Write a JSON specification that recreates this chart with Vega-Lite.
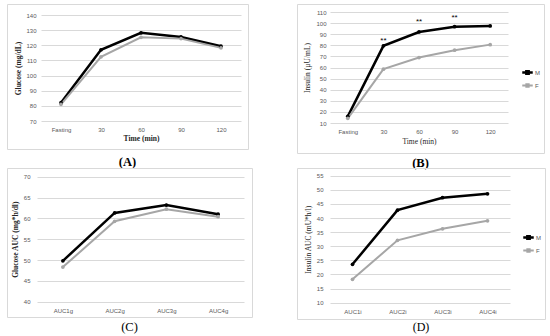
{
  "$schema": "https://vega.github.io/schema/vega-lite/v6.json",
  "padding": {"left": 6, "top": 3, "right": 0, "bottom": 0},
  "background": "white",
  "datasets": {
    "glucose": [
      {"time": "Fasting", "sex": "M", "value": 82.1},
      {"time": "30", "sex": "M", "value": 117},
      {"time": "60", "sex": "M", "value": 128.2},
      {"time": "90", "sex": "M", "value": 125.5},
      {"time": "120", "sex": "M", "value": 119.4},
      {"time": "Fasting", "sex": "F", "value": 81},
      {"time": "30", "sex": "F", "value": 112.4},
      {"time": "60", "sex": "F", "value": 125.3},
      {"time": "90", "sex": "F", "value": 124.4},
      {"time": "120", "sex": "F", "value": 118.3}
    ],
    "insulin": [
      {"time": "Fasting", "sex": "M", "value": 16},
      {"time": "30", "sex": "M", "value": 79.5},
      {"time": "60", "sex": "M", "value": 92},
      {"time": "90", "sex": "M", "value": 96.8},
      {"time": "120", "sex": "M", "value": 97.4},
      {"time": "Fasting", "sex": "F", "value": 14.2},
      {"time": "30", "sex": "F", "value": 58.5},
      {"time": "60", "sex": "F", "value": 69},
      {"time": "90", "sex": "F", "value": 75.6},
      {"time": "120", "sex": "F", "value": 80.6}
    ],
    "stars": [
      {"time": "30", "value": 86, "label": "**"},
      {"time": "60", "value": 102.6, "label": "**"},
      {"time": "90", "value": 106.5, "label": "**"}
    ],
    "gauc": [
      {"auc": "AUC1g", "sex": "M", "value": 49.8},
      {"auc": "AUC2g", "sex": "M", "value": 61.3},
      {"auc": "AUC3g", "sex": "M", "value": 63.2},
      {"auc": "AUC4g", "sex": "M", "value": 61.0},
      {"auc": "AUC1g", "sex": "F", "value": 48.3},
      {"auc": "AUC2g", "sex": "F", "value": 59.3},
      {"auc": "AUC3g", "sex": "F", "value": 62.2},
      {"auc": "AUC4g", "sex": "F", "value": 60.4}
    ],
    "iauc": [
      {"auc": "AUC1i", "sex": "M", "value": 23.6},
      {"auc": "AUC2i", "sex": "M", "value": 42.8},
      {"auc": "AUC3i", "sex": "M", "value": 47.2},
      {"auc": "AUC4i", "sex": "M", "value": 48.6},
      {"auc": "AUC1i", "sex": "F", "value": 18.3},
      {"auc": "AUC2i", "sex": "F", "value": 32.1},
      {"auc": "AUC3i", "sex": "F", "value": 36.2},
      {"auc": "AUC4i", "sex": "F", "value": 39.0}
    ]
  },
  "bounds": "flush",
  "columns": 2,
  "spacing": {"row": 15, "column": 45},
  "resolve": {"scale": {"color": "independent", "strokeWidth": "independent", "x": "independent", "y": "independent"}, "legend": {"color": "independent"}, "axis": {"x": "independent", "y": "independent"}},
  "concat": [
        {
          "width": 241, "height": 145,
          "data": {"name": "glucose"},
          "title": {"text": "(A)", "orient": "bottom", "offset": 7, "font": "Liberation Serif", "fontSize": 12.5, "fontWeight": "bold", "color": "#000000"},
          "encoding": {
            "x": {"field": "time", "type": "ordinal", "sort": ["Fasting", "30", "60", "90", "120"],
                  "scale": {"type": "point", "range": [34, 234], "padding": 0.5},
                  "axis": {"title": "Time (min)", "offset": -28, "labelAngle": 0, "labelPadding": 5, "titlePadding": 2, "titleFontWeight": "bold"}},
            "y": {"field": "value", "type": "quantitative",
                  "scale": {"domain": [70, 140], "range": [117, 11], "nice": false, "zero": false},
                  "axis": {"title": "Glucose (mg/dL)", "values": [70, 80, 90, 100, 110, 120, 130, 140], "offset": -34, "labelPadding": 5, "titlePadding": 3, "titleFontWeight": "bold"}}
          },
          "layer": [
            {"mark": {"type": "line"},
             "encoding": {
               "color": {"field": "sex", "type": "nominal", "scale": {"domain": ["M", "F"], "range": ["#000000", "#a6a6a6"]}, "legend": null},
               "strokeWidth": {"field": "sex", "type": "nominal", "scale": {"domain": ["M", "F"], "range": [2.5, 2]}, "legend": null}}},
            {"mark": {"type": "point", "filled": true, "size": 14, "opacity": 1},
             "encoding": {
               "color": {"field": "sex", "type": "nominal", "scale": {"domain": ["M", "F"], "range": ["#000000", "#a6a6a6"]}, "legend": null}}}
          ]
        },
        {
          "width": 247, "height": 149,
          "title": {"text": "(B)", "orient": "bottom", "offset": 4, "font": "Liberation Serif", "fontSize": 12.5, "fontWeight": "bold", "color": "#000000"},
          "encoding": {
            "x": {"field": "time", "type": "ordinal", "sort": ["Fasting", "30", "60", "90", "120"],
                  "scale": {"type": "point", "range": [33, 211], "padding": 0.5},
                  "axis": {"title": "Time (min)", "offset": -30, "labelAngle": 0, "labelPadding": 5, "titlePadding": 3}},
            "y": {"field": "value", "type": "quantitative",
                  "scale": {"domain": [10, 110], "range": [119, 8], "nice": false, "zero": false},
                  "axis": {"title": "Insulin (µU/mL)", "values": [10, 20, 30, 40, 50, 60, 70, 80, 90, 100, 110], "offset": -33, "labelPadding": 4, "titlePadding": 4}}
          },
          "layer": [
            {"data": {"name": "insulin"},
             "mark": {"type": "line"},
             "encoding": {
               "color": {"field": "sex", "type": "nominal", "scale": {"domain": ["M", "F"], "range": ["#000000", "#a6a6a6"]},
                         "legend": {"orient": "none", "legendX": 224, "legendY": 62, "title": null, "symbolType": "M-1,0L1,0M-0.22,-0.22L0.22,-0.22L0.22,0.22L-0.22,0.22Z", "symbolSize": 110, "symbolStrokeWidth": 1.8, "labelFontSize": 6, "labelColor": "#595959", "labelFont": "Liberation Sans", "rowPadding": -1, "labelOffset": 1}},
               "strokeWidth": {"field": "sex", "type": "nominal", "scale": {"domain": ["M", "F"], "range": [2.5, 2]}, "legend": null}}},
            {"data": {"name": "insulin"},
             "mark": {"type": "point", "filled": true, "size": 14, "opacity": 1},
             "encoding": {
               "color": {"field": "sex", "type": "nominal", "scale": {"domain": ["M", "F"], "range": ["#000000", "#a6a6a6"]}}}},
            {"data": {"name": "stars"},
             "mark": {"type": "text", "font": "Liberation Sans", "fontSize": 8, "color": "#000000", "baseline": "middle", "dy": 2},
             "encoding": {"text": {"field": "label"}}}
          ]
        },
        {
          "width": 245, "height": 149,
          "data": {"name": "gauc"},
          "title": {"text": "(C)", "orient": "bottom", "offset": 4, "font": "Liberation Serif", "fontSize": 12.5, "fontWeight": "normal", "color": "#000000"},
          "encoding": {
            "x": {"field": "auc", "type": "ordinal", "sort": ["AUC1g", "AUC2g", "AUC3g", "AUC4g"],
                  "scale": {"type": "point", "range": [30, 237], "padding": 0.5},
                  "axis": {"title": null, "offset": -15, "labelAngle": 0, "labelPadding": 5}},
            "y": {"field": "value", "type": "quantitative",
                  "scale": {"domain": [40, 70], "range": [133.7, 8.7], "nice": false, "zero": false},
                  "axis": {"title": "Glucose AUC (mg*h/dl)", "values": [40, 45, 50, 55, 60, 65, 70], "offset": -30, "labelPadding": 7, "titlePadding": 4, "titleFontWeight": "bold"}}
          },
          "layer": [
            {"mark": {"type": "line"},
             "encoding": {
               "color": {"field": "sex", "type": "nominal", "scale": {"domain": ["M", "F"], "range": ["#000000", "#a6a6a6"]}, "legend": null},
               "strokeWidth": {"field": "sex", "type": "nominal", "scale": {"domain": ["M", "F"], "range": [2.5, 2]}, "legend": null}}},
            {"mark": {"type": "point", "filled": true, "size": 14, "opacity": 1},
             "encoding": {
               "color": {"field": "sex", "type": "nominal", "scale": {"domain": ["M", "F"], "range": ["#000000", "#a6a6a6"]}, "legend": null}}}
          ]
        },
        {
          "width": 248, "height": 151,
          "data": {"name": "iauc"},
          "title": {"text": "(D)", "orient": "bottom", "offset": 3, "font": "Liberation Serif", "fontSize": 12, "fontWeight": "normal", "color": "#000000"},
          "encoding": {
            "x": {"field": "auc", "type": "ordinal", "sort": ["AUC1i", "AUC2i", "AUC3i", "AUC4i"],
                  "scale": {"type": "point", "range": [33, 213], "padding": 0.5},
                  "axis": {"title": null, "offset": -16, "labelAngle": 0, "labelPadding": 5}},
            "y": {"field": "value", "type": "quantitative",
                  "scale": {"domain": [10, 55], "range": [134.7, 7.7], "nice": false, "zero": false},
                  "axis": {"title": "Insulin AUC (mU*h/l)", "values": [10, 15, 20, 25, 30, 35, 40, 45, 50, 55], "offset": -33, "labelPadding": 7, "titlePadding": 4}}
          },
          "layer": [
            {"mark": {"type": "line"},
             "encoding": {
               "color": {"field": "sex", "type": "nominal", "scale": {"domain": ["M", "F"], "range": ["#000000", "#a6a6a6"]},
                         "legend": {"orient": "none", "legendX": 225, "legendY": 63, "title": null, "symbolType": "M-1,0L1,0M-0.22,-0.22L0.22,-0.22L0.22,0.22L-0.22,0.22Z", "symbolSize": 110, "symbolStrokeWidth": 1.8, "labelFontSize": 6, "labelColor": "#595959", "labelFont": "Liberation Sans", "rowPadding": -1, "labelOffset": 1}},
               "strokeWidth": {"field": "sex", "type": "nominal", "scale": {"domain": ["M", "F"], "range": [2.5, 2]}, "legend": null}}},
            {"mark": {"type": "point", "filled": true, "size": 14, "opacity": 1},
             "encoding": {
               "color": {"field": "sex", "type": "nominal", "scale": {"domain": ["M", "F"], "range": ["#000000", "#a6a6a6"]}}}}
          ]
        }
  ],
  "config": {
    "view": {"stroke": "#d9d9d9", "strokeWidth": 1},
    "axis": {
      "labelFont": "Liberation Sans", "labelFontSize": 6, "labelColor": "#595959",
      "titleFont": "Liberation Serif", "titleFontSize": 7.5, "titleColor": "#262626", "titleFontWeight": "normal",
      "ticks": false, "domain": false, "gridColor": "#d9d9d9", "gridWidth": 1
    },
    "axisX": {"grid": false}
  }
}
